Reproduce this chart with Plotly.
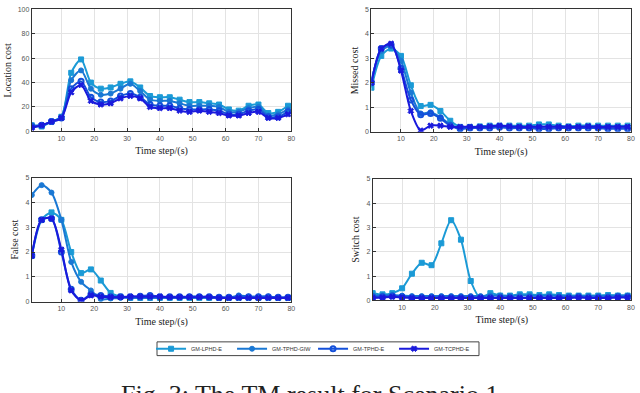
import plotly.graph_objects as go

# Datos: pasos de tiempo con marcador (cada 3 pasos)
time_steps = [1, 4, 7, 10, 13, 16, 19, 22, 25, 28, 31, 34, 37, 40, 43, 46, 49, 52, 55, 58, 61, 64, 67, 70, 73, 76, 79]

series_names = ['GM-LPHD-E', 'GM-TPHD-GIW', 'GM-TPHD-E', 'GM-TCPHD-E']

# Location cost
loc_lphd = [5, 4, 8, 12, 48, 59, 40, 35, 36, 39, 41, 36, 29, 28, 28, 26, 24, 24, 23, 22, 18, 17, 21, 22, 15, 16, 21]
loc_giw = [5, 5, 8, 12, 42, 50, 35, 30, 31, 35, 39, 33, 26, 25, 25, 23, 21, 21, 21, 20, 16, 16, 19, 20, 13, 14, 18]
loc_tphd = [4, 5, 8, 11, 35, 41, 28, 24, 25, 29, 31, 28, 22, 21, 21, 19, 18, 18, 18, 17, 14, 14, 17, 18, 12, 12, 16]
loc_tcphd = [3, 5, 8, 11, 32, 38, 25, 22, 23, 27, 29, 27, 20, 19, 19, 17, 16, 17, 16, 15, 13, 13, 15, 16, 11, 11, 14]

# Missed cost
mis_lphd = [1.8, 3.1, 3.4, 3.1, 1.9, 1.05, 1.1, 0.85, 0.45, 0.2, 0.2, 0.22, 0.25, 0.25, 0.25, 0.25, 0.25, 0.3, 0.3, 0.25, 0.22, 0.25, 0.25, 0.25, 0.25, 0.25, 0.25]
mis_giw = [2.1, 3.3, 3.5, 2.9, 1.6, 0.75, 0.8, 0.6, 0.3, 0.15, 0.18, 0.2, 0.2, 0.22, 0.2, 0.2, 0.2, 0.2, 0.22, 0.2, 0.2, 0.2, 0.2, 0.2, 0.2, 0.2, 0.2]
mis_tphd = [2.0, 3.4, 3.55, 2.6, 1.3, 0.7, 0.75, 0.55, 0.25, 0.12, 0.15, 0.15, 0.15, 0.18, 0.15, 0.15, 0.15, 0.12, 0.12, 0.15, 0.15, 0.15, 0.15, 0.15, 0.12, 0.12, 0.12]
mis_tcphd = [2.0, 3.4, 3.6, 2.5, 0.85, 0.05, 0.25, 0.25, 0.2, 0.2, 0.2, 0.2, 0.22, 0.25, 0.22, 0.2, 0.2, 0.2, 0.2, 0.2, 0.2, 0.2, 0.22, 0.2, 0.2, 0.2, 0.2]

# False cost
fal_lphd = [1.85, 3.3, 3.6, 3.3, 2.0, 1.15, 1.3, 0.85, 0.35, 0.2, 0.15, 0.15, 0.15, 0.15, 0.15, 0.15, 0.15, 0.15, 0.15, 0.15, 0.15, 0.15, 0.15, 0.15, 0.15, 0.15, 0.15]
fal_giw = [4.3, 4.7, 4.4, 3.3, 1.6, 0.8, 0.45, 0.1, 0.12, 0.15, 0.15, 0.15, 0.15, 0.15, 0.15, 0.15, 0.2, 0.2, 0.15, 0.15, 0.15, 0.25, 0.2, 0.2, 0.2, 0.15, 0.15]
fal_tphd = [1.85, 3.3, 3.35, 2.0, 0.5, 0.05, 0.3, 0.25, 0.2, 0.2, 0.2, 0.22, 0.25, 0.2, 0.2, 0.2, 0.2, 0.2, 0.2, 0.18, 0.18, 0.2, 0.2, 0.2, 0.2, 0.18, 0.18]
fal_tcphd = [1.85, 3.3, 3.35, 2.1, 0.45, 0.05, 0.25, 0.2, 0.18, 0.18, 0.2, 0.2, 0.2, 0.2, 0.18, 0.18, 0.18, 0.18, 0.18, 0.15, 0.15, 0.15, 0.15, 0.15, 0.15, 0.15, 0.15]

# Switch cost
sw_lphd = [0.3, 0.25, 0.3, 0.5, 1.1, 1.55, 1.45, 2.35, 3.3, 2.5, 0.8, 0.1, 0.3, 0.2, 0.2, 0.25, 0.25, 0.22, 0.25, 0.22, 0.2, 0.2, 0.2, 0.2, 0.22, 0.2, 0.2]
sw_giw = [0.2, 0.2, 0.22, 0.2, 0.18, 0.18, 0.18, 0.18, 0.18, 0.18, 0.18, 0.18, 0.2, 0.2, 0.18, 0.2, 0.2, 0.18, 0.2, 0.18, 0.18, 0.18, 0.18, 0.18, 0.18, 0.2, 0.2]
sw_tphd = [0.15, 0.15, 0.18, 0.15, 0.12, 0.12, 0.12, 0.12, 0.12, 0.12, 0.12, 0.12, 0.12, 0.12, 0.12, 0.1, 0.12, 0.12, 0.12, 0.12, 0.12, 0.15, 0.12, 0.12, 0.12, 0.15, 0.15]
sw_tcphd = [0.1, 0.12, 0.15, 0.12, 0.1, 0.1, 0.1, 0.1, 0.1, 0.1, 0.1, 0.1, 0.1, 0.1, 0.1, 0.1, 0.1, 0.1, 0.1, 0.1, 0.1, 0.12, 0.1, 0.1, 0.1, 0.12, 0.12]

panels = [
    ('Location cost', [loc_lphd, loc_giw, loc_tphd, loc_tcphd], [0, 100], [0, 20, 40, 60, 80, 100]),
    ('Missed cost', [mis_lphd, mis_giw, mis_tphd, mis_tcphd], [0, 5], [0, 1, 2, 3, 4, 5]),
    ('False cost', [fal_lphd, fal_giw, fal_tphd, fal_tcphd], [0, 5], [0, 1, 2, 3, 4, 5]),
    ('Switch cost', [sw_lphd, sw_giw, sw_tphd, sw_tcphd], [0, 5], [0, 1, 2, 3, 4, 5]),
]

colores = ['#1B9AD6', '#1A78D4', '#1450DA', '#1A1ADC']
simbolos = ['square', 'circle', 'circle-open', 'x']

# Posiciones de los ejes (en coordenadas de papel)
x_domains = [[0.050, 0.458], [0.584, 0.992], [0.050, 0.458], [0.586, 0.992]]
y_domains = [[0.670, 0.986], [0.669, 0.986], [0.229, 0.550], [0.232, 0.547]]

fig = go.Figure()

for i, (ytitle, datos, yrange, yticks) in enumerate(panels):
    n = '' if i == 0 else str(i + 1)
    for j, serie in enumerate(datos):
        fig.add_trace(go.Scatter(
            x=time_steps, y=serie, mode='lines+markers', name=series_names[j],
            line=dict(color=colores[j], width=2, shape='spline', smoothing=0.8),
            marker=dict(symbol=simbolos[j], size=5, color=colores[j],
                        line=dict(color=colores[j], width=2 if j == 2 else 1)),
            xaxis='x' + n, yaxis='y' + n, showlegend=(i == 0),
        ))
    eje = dict(showline=True, mirror=True, linecolor='#333', linewidth=1,
               gridcolor='#e3e3e3', ticks='inside', ticklen=3, tickcolor='#333',
               tickfont=dict(family='Liberation Sans', size=7, color='#555'),
               zeroline=False)
    fig.layout['xaxis' + n] = dict(eje, domain=x_domains[i], anchor='y' + n, range=[1, 80],
                                   tickvals=[10, 20, 30, 40, 50, 60, 70, 80],
                                   title=dict(text='Time step/(s)', standoff=6,
                                              font=dict(family='Liberation Serif', size=10, color='#222')))
    fig.layout['yaxis' + n] = dict(eje, domain=y_domains[i], anchor='x' + n, range=yrange,
                                   tickvals=yticks,
                                   title=dict(text=ytitle, standoff=4,
                                              font=dict(family='Liberation Serif', size=10, color='#222')))

# Marco de la leyenda
fig.add_shape(type='rect', xref='paper', yref='paper', x0=158 / 640, x1=482 / 640,
              y0=1 - 358 / 393, y1=1 - 344 / 393, line=dict(color='#444', width=1),
              fillcolor='white', layer='below')

# Pie de figura (cortado por el borde inferior, como en el original)
fig.add_annotation(text='Fig. 3: The TM result for Scenario 1', xref='paper', yref='paper',
                   x=0.486, y=1 - 381 / 393, xanchor='center', yanchor='top', showarrow=False,
                   font=dict(family='Liberation Serif', size=26, color='#222'))

fig.update_layout(
    width=640, height=393,
    margin=dict(l=0, r=0, t=0, b=0),
    paper_bgcolor='white', plot_bgcolor='white',
    legend=dict(orientation='h', x=152 / 640, xanchor='left', y=1 - 351 / 393, yanchor='middle',
                borderwidth=0, bgcolor='rgba(0,0,0,0)',
                font=dict(family='Liberation Sans', size=5.5, color='#333'),
                entrywidth=36, itemwidth=30, tracegroupgap=0),
)

# Quitar el margen del body para que la figura quede en la esquina
fig.write_html('out.html', config={'displayModeBar': False},
               post_script="document.body.style.margin='0';")
